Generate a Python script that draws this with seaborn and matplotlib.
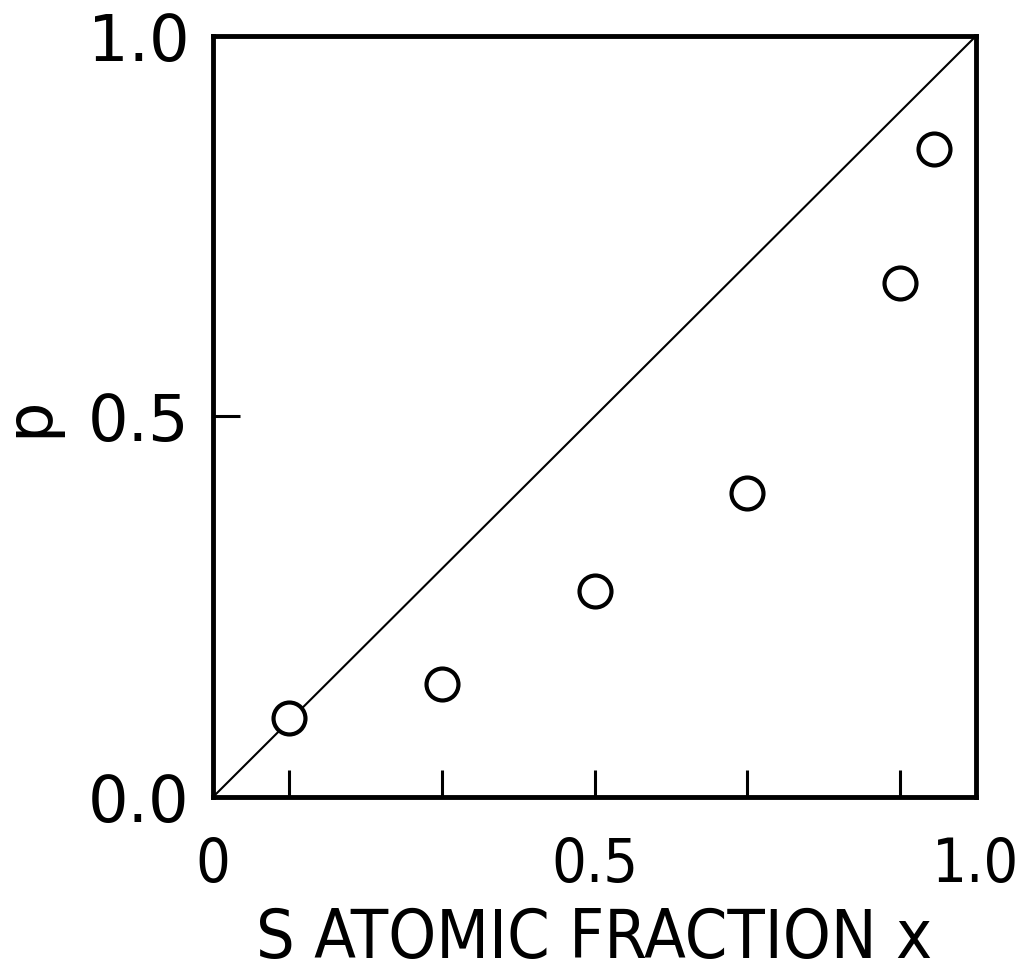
import matplotlib
matplotlib.use("Agg")
import matplotlib.pyplot as plt
import seaborn as sns
import pandas as pd

# Measured sulfur fraction x and the corresponding p values
x_frac = [0.1, 0.3, 0.5, 0.7, 0.9, 0.945]
p_vals = [0.104, 0.149, 0.271, 0.40, 0.676, 0.851]

# Reference line p = x
diag_x = [0.0, 1.0]
diag_y = [0.0, 1.0]

major_ticks = [0.0, 0.5, 1.0]
x_tick_labels = ["0", "0.5", "1.0"]
y_tick_labels = ["0.0", "0.5", "1.0"]
x_minor_ticks = [0.1, 0.3, 0.5, 0.7, 0.9]
y_minor_ticks = [0.5]

sns.set_style("ticks")
plt.rcParams["font.family"] = ["DejaVu Sans"]
plt.rcParams["text.color"] = "black"
plt.rcParams["axes.labelcolor"] = "black"
plt.rcParams["xtick.color"] = "black"
plt.rcParams["ytick.color"] = "black"

fig = plt.figure(figsize=(10.24, 9.71), dpi=100)
ax = fig.add_axes([213 / 1024, 174 / 971, (976 - 213) / 1024, (797 - 36) / 971])

pts = pd.DataFrame({"x": x_frac, "p": p_vals})
diag = pd.DataFrame({"x": diag_x, "p": diag_y})

sns.lineplot(data=diag, x="x", y="p", ax=ax, color="black", linewidth=1.5, zorder=2)
ax.plot(pts["x"], pts["p"], linestyle="none", marker="o", markersize=23,
        markerfacecolor="white", markeredgecolor="black", markeredgewidth=3.0, zorder=3)

ax.set_xlim(0, 1)
ax.set_ylim(0, 1)

# keep the inward marks at 0.5 even though a labelled major tick sits there
ax.xaxis.remove_overlapping_locs = False
ax.yaxis.remove_overlapping_locs = False

ax.set_xticks(major_ticks)
ax.set_xticklabels(x_tick_labels, family="DejaVu Sans", fontstretch="condensed", fontsize=44)
ax.set_yticks(major_ticks)
ax.set_yticklabels(y_tick_labels, family="DejaVu Sans", fontsize=46)
ax.set_xticks(x_minor_ticks, minor=True)
ax.set_yticks(y_minor_ticks, minor=True)

ax.tick_params(axis="both", which="both", bottom=True, left=True, top=False, right=False)
ax.tick_params(axis="x", which="major", length=0, pad=28, labelcolor="black")
ax.tick_params(axis="y", which="major", length=0, pad=17, labelcolor="black")
ax.tick_params(which="minor", direction="in", length=19.5, width=2.2, color="black")

for side in ["left", "right", "top", "bottom"]:
    ax.spines[side].set_visible(True)
    ax.spines[side].set_color("black")
    ax.spines[side].set_linewidth(3.5)

ax.set_xlabel("S ATOMIC FRACTION x", family="DejaVu Sans", fontstretch="condensed",
              fontsize=49, labelpad=8, color="black")
ax.set_ylabel("p", family="DejaVu Sans", fontsize=46, color="black")
ax.yaxis.set_label_coords(-0.20, 0.5)

fig.savefig("out.png", dpi=100, facecolor="white")
